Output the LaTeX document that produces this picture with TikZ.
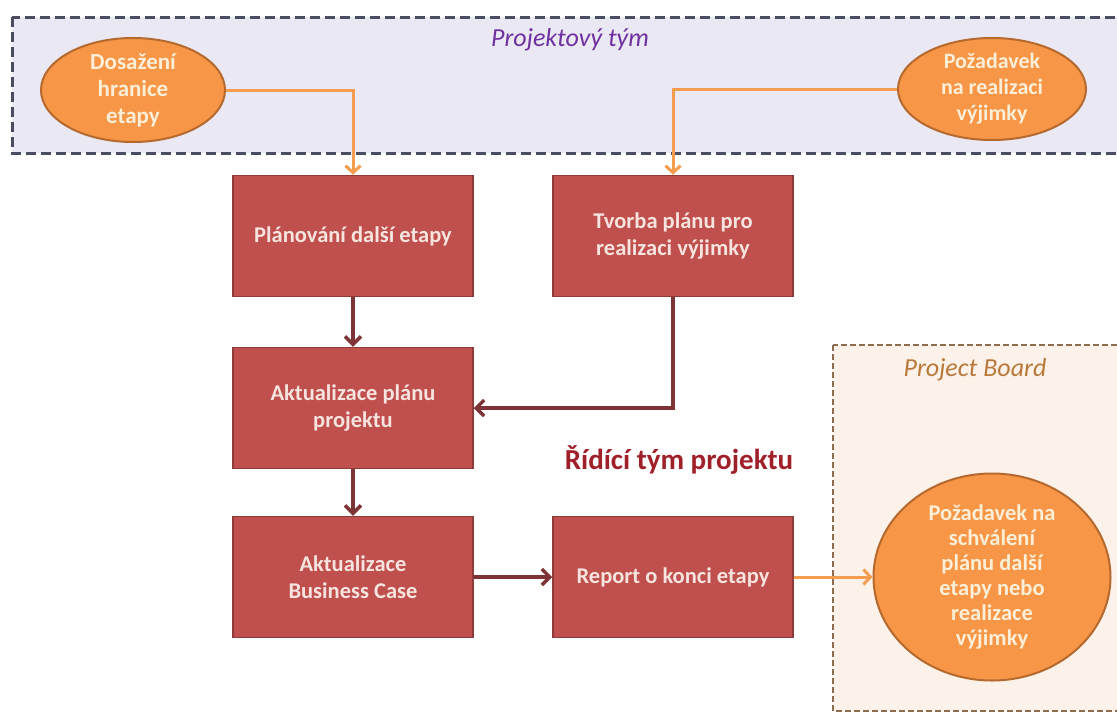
\documentclass[tikz,border=0pt]{standalone}
\usepackage{fontspec}
\setmainfont{Carlito}
\usetikzlibrary{arrows.meta,shapes.geometric}

\definecolor{bandfill}{HTML}{E9E8F3}
\definecolor{bandline}{HTML}{4A4D60}
\definecolor{boardfill}{HTML}{FDF2E9}
\definecolor{boardline}{HTML}{8C6D4F}
\definecolor{evfill}{HTML}{F79646}
\definecolor{evline}{HTML}{B5692E}
\definecolor{evtext}{HTML}{FCEFD8}
\definecolor{stepfill}{HTML}{C0504D}
\definecolor{stepline}{HTML}{8E3B39}
\definecolor{steptext}{HTML}{F7E4DF}
\definecolor{flowdark}{HTML}{7E3336}
\definecolor{flowlight}{HTML}{F59D4F}
\definecolor{teamlabel}{HTML}{7030A0}
\definecolor{boardlabel}{HTML}{B8793A}
\definecolor{steerlabel}{HTML}{A0202A}

\begin{document}
\begin{tikzpicture}[x=1pt,y=-1pt,
  stepbox/.style={rectangle, draw=stepline, line width=1.5pt, fill=stepfill,
    minimum width=240pt, minimum height=121pt, inner sep=0pt, text=steptext,
    font=\bfseries\fontsize{22.5}{27}\selectfont, align=center},
  event/.style={ellipse, draw=evline, line width=2pt, fill=evfill, inner sep=-3pt,
    text=evtext, font=\bfseries\fontsize{23}{27}\selectfont, align=center},
  darkflow/.style={draw=flowdark, line width=3.5pt, -{Straight Barb[length=8pt,width=16pt]}},
  lightflow/.style={draw=flowlight, line width=3pt, -{Straight Barb[length=7pt,width=15pt]}},
  regionlabel/.style={font=\itshape\fontsize{26}{30}\selectfont, inner sep=0pt}
]
\useasboundingbox (0,0) rectangle (1117,713);
\clip (0,0) rectangle (1117,713);
\fill[white] (0,0) rectangle (1117,713);

% swimlane regions
\draw[bandline, fill=bandfill, line width=3pt, dash pattern=on 10pt off 5pt]
  (12,17) rectangle (1140,153);
\draw[boardline, fill=boardfill, line width=2pt, dash pattern=on 6pt off 3pt]
  (833,345) rectangle (1140,711);

% region titles
\node[regionlabel, text=teamlabel] (teamtitle) at (570,40) {Projektový tým};
\node[regionlabel, text=boardlabel] (boardtitle) at (975,370) {Project Board};
\node[font=\bfseries\fontsize{29}{34}\selectfont, text=steerlabel, inner sep=0pt]
  (steertitle) at (679,460) {Řídící tým projektu};

% triggers and outputs
\node[event, minimum width=184pt, minimum height=104pt] (reach) at (133,90)
  {Dosažení\\hranice\\etapy};
\node[event, minimum width=188pt, minimum height=102pt,
  font=\bfseries\fontsize{22}{26}\selectfont] (excreq) at (992,89)
  {Požadavek\\na realizaci\\výjimky};
\node[event, minimum width=237pt, minimum height=207pt,
  font=\bfseries\fontsize{22.5}{25}\selectfont] (approve) at (992,577)
  {Požadavek na\\schválení\\plánu další\\etapy nebo\\realizace\\výjimky};

% process steps
\node[stepbox] (plan) at (353,236) {Plánování další etapy};
\node[stepbox] (excplan) at (673,236) {Tvorba plánu pro\\realizaci výjimky};
\node[stepbox] (update) at (353,408) {Aktualizace plánu\\projektu};
\node[stepbox] (bcase) at (353,577) {Aktualizace\\Business Case};
\node[stepbox] (report) at (673,577) {Report o konci etapy};

% flows
\draw[lightflow] (reach.east) -| (plan.north);
\draw[lightflow] (excreq.west) -| (excplan.north);
\draw[darkflow] (plan) -- (update);
\draw[darkflow] (excplan.south) |- (update.east);
\draw[darkflow] (update) -- (bcase);
\draw[darkflow] (bcase) -- (report);
\draw[lightflow] (report) -- (approve);
\end{tikzpicture}
\end{document}
